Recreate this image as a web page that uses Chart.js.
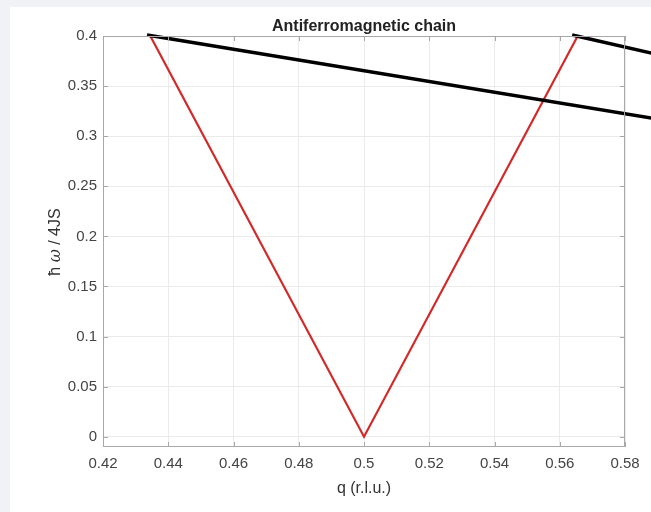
<!DOCTYPE html>
<html>
<head>
<meta charset="utf-8">
<title>Antiferromagnetic chain</title>
<script src="https://cdn.jsdelivr.net/npm/chart.js@4"></script>
<style>
  html, body { margin: 0; padding: 0; }
  body { width: 651px; height: 512px; background: #f0f2f5; position: relative; overflow: hidden; }
  #panel { position: absolute; left: 10px; top: 7px; right: 0; bottom: 0; background: #fff; }
  #chart { position: absolute; left: 0; top: 0; }
</style>
</head>
<body>
<div id="panel"></div>
<canvas id="chart" width="651" height="512"></canvas>
<script>
/* ---- data ---- */
const qDisp = [0.4345, 0.5, 0.5655];     // q (r.l.u.)
const eDisp = [0.4, 0, 0.4];             // h-bar omega / 4JS
const qArrowA = [0.4335, 0.592];         // black annotation line from left top
const eArrowA = [0.401, 0.316];
const qArrowB = [0.5638, 0.592];         // black annotation line from right top
const eArrowB = [0.401, 0.380];
const xTicks = [0.42, 0.44, 0.46, 0.48, 0.5, 0.52, 0.54, 0.56, 0.58];
const yTicks = [0, 0.05, 0.1, 0.15, 0.2, 0.25, 0.3, 0.35, 0.4];

const FONT = '"Liberation Sans", Arial, Helvetica, sans-serif';
const AXIS_GRAY = '#a8a8a8';

function pts(xs, ys) { return xs.map((x, i) => ({ x: x, y: ys[i] })); }

// box, inward ticks and text, drawn MATLAB style
const matlabFrame = {
  id: 'matlabFrame',
  afterDraw(chart) {
    const { ctx, chartArea: a, scales } = chart;
    ctx.save();
    ctx.strokeStyle = AXIS_GRAY;
    ctx.lineWidth = 1;
    ctx.strokeRect(a.left + 0.5, a.top + 0.5, a.right - a.left - 1, a.bottom - a.top - 1);
    ctx.beginPath();
    const tl = 5;
    xTicks.forEach(v => {
      const px = Math.round(scales.x.getPixelForValue(v)) + 0.5;
      ctx.moveTo(px, a.bottom); ctx.lineTo(px, a.bottom - tl);
      ctx.moveTo(px, a.top); ctx.lineTo(px, a.top + tl);
    });
    yTicks.forEach(v => {
      const py = Math.round(scales.y.getPixelForValue(v)) + 0.5;
      ctx.moveTo(a.left, py); ctx.lineTo(a.left + tl, py);
      ctx.moveTo(a.right, py); ctx.lineTo(a.right - tl, py);
    });
    ctx.stroke();

    const cx = (a.left + a.right) / 2;
    ctx.textAlign = 'center';
    ctx.textBaseline = 'alphabetic';

    // title
    ctx.fillStyle = '#222';
    ctx.font = 'bold 16px ' + FONT;
    ctx.fillText('Antiferromagnetic chain', cx, 31);

    // x label
    ctx.fillStyle = '#333';
    ctx.font = '16px ' + FONT;
    ctx.fillText('q (r.l.u.)', cx, 493);

    // y label, rotated, omega in italic
    ctx.translate(60, 242);
    ctx.rotate(-Math.PI / 2);
    const parts = [['ħ ', '16px ' + FONT], ['ω', 'italic 16px "DejaVu Serif", serif'], [' / 4JS', '16px ' + FONT]];
    let total = 0;
    parts.forEach(p => { ctx.font = p[1]; total += ctx.measureText(p[0]).width; });
    let x = -total / 2;
    ctx.textAlign = 'left';
    parts.forEach(p => {
      ctx.font = p[1];
      ctx.fillText(p[0], x, 0);
      x += ctx.measureText(p[0]).width;
    });
    ctx.restore();
  }
};

new Chart(document.getElementById('chart'), {
  type: 'line',
  data: {
    datasets: [
      {
        data: pts(qArrowA, eArrowA),
        borderColor: '#000',
        borderWidth: 3.5,
        pointRadius: 0,
        clip: false,
        order: 0
      },
      {
        data: pts(qArrowB, eArrowB),
        borderColor: '#000',
        borderWidth: 3.5,
        pointRadius: 0,
        clip: false,
        order: 0
      },
      {
        data: pts(qDisp, eDisp),
        borderColor: '#d22a2a',
        borderWidth: 2.2,
        pointRadius: 0,
        order: 1
      }
    ]
  },
  options: {
    responsive: false,
    animation: false,
    layout: { padding: { left: 0, right: 26, top: 36, bottom: 0 } },
    plugins: {
      legend: { display: false },
      tooltip: { enabled: false },
      title: { display: false }
    },
    scales: {
      x: {
        type: 'linear',
        min: 0.42,
        max: 0.58,
        afterFit: s => { s.height = 65; },
        afterBuildTicks: s => { s.ticks = xTicks.map(v => ({ value: v })); },
        grid: { color: '#ebebeb', drawTicks: false },
        border: { display: false },
        ticks: {
          padding: 8,
          color: '#444',
          font: { family: FONT, size: 15 },
          maxRotation: 0,
          callback: v => String(+v.toFixed(2))
        }
      },
      y: {
        type: 'linear',
        min: -0.0102,
        max: 0.4,
        afterFit: s => { s.width = 103; },
        afterBuildTicks: s => { s.ticks = yTicks.map(v => ({ value: v })); },
        grid: { color: '#ebebeb', drawTicks: false },
        border: { display: false },
        ticks: {
          padding: 6,
          color: '#444',
          font: { family: FONT, size: 15 },
          callback: v => String(+v.toFixed(2))
        }
      }
    }
  },
  plugins: [matlabFrame]
});
</script>
</body>
</html>
